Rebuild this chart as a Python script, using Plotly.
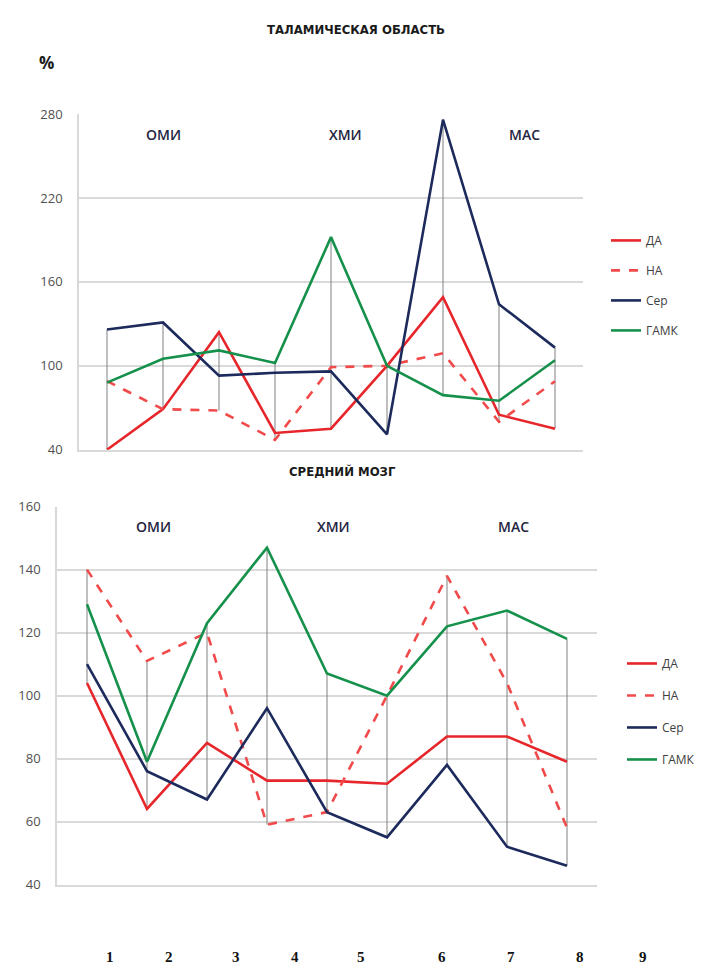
import plotly.graph_objects as go

# ---------------- data ----------------
categories = [1, 2, 3, 4, 5, 6, 7, 8, 9]
bottom_tick_labels = ["1", "2", "3", "4", "5", "6", "7", "8", "9"]
series_names = ["ДА", "НА", "Сер", "ГАМК"]

# Таламическая область (%)
thal_da = [40, 69, 124, 52, 55, 100, 149, 65, 55]
thal_na = [89, 69, 68, 47, 99, 100, 109, 60, 89]
thal_ser = [126, 131, 93, 95, 96, 51, 276, 144, 113]
thal_gaba = [88, 105, 111, 102, 192, 100, 79, 75, 104]

# Средний мозг (%)
mid_da = [104, 64, 85, 73, 73, 72, 87, 87, 79]
mid_na = [140, 111, 120, 59, 63, 100, 138, 104, 58]
mid_ser = [110, 76, 67, 96, 63, 55, 78, 52, 46]
mid_gaba = [129, 79, 123, 147, 107, 100, 122, 127, 118]

group_labels = ["ОМИ", "ХМИ", "МАС"]

# ---------------- styles ----------------
W, H = 720, 976
colors = ["#e6262b", "#f14a4a", "#1c2a5c", "#15914b"]
dashes = ["solid", "dash", "solid", "solid"]
grid_col = "#d9d9d9"
tick_font = dict(family="Open Sans, Liberation Sans, sans-serif", size=13, color="#505050")
label_font = dict(family="Open Sans, Liberation Sans, sans-serif", size=14, color="#1f2440", weight=600)

def px_x(p):
    return p / W

def px_y(p):
    return 1 - p / H

fig = go.Figure()

def add_panel(series, xa, ya, legend):
    # high-low lines
    hx, hy = [], []
    for i, c in enumerate(categories):
        vals = [s[i] for s in series]
        hx += [c, c, None]
        hy += [max(vals), min(vals), None]
    fig.add_trace(go.Scatter(x=hx, y=hy, mode="lines", xaxis=xa, yaxis=ya,
                             line=dict(color="#808080", width=1),
                             showlegend=False, hoverinfo="skip"))
    for name, s, col, d in zip(series_names, series, colors, dashes):
        fig.add_trace(go.Scatter(x=categories, y=s, mode="lines", name=name,
                                 xaxis=xa, yaxis=ya, legend=legend,
                                 legendgroup=legend + name,
                                 line=dict(color=col, width=2.6, dash=d)))

add_panel([thal_da, thal_na, thal_ser, thal_gaba], "x", "y", "legend")
add_panel([mid_da, mid_na, mid_ser, mid_gaba], "x2", "y2", "legend2")

axis_common = dict(showgrid=False, zeroline=False, showticklabels=False,
                   range=[0.5, 9.5], showline=True, linecolor=grid_col, linewidth=1.5)
yaxis_common = dict(showgrid=True, gridcolor=grid_col, gridwidth=1.5, zeroline=False,
                    tickfont=tick_font, showline=True, linecolor=grid_col, linewidth=1.5,
                    ticks="", ticklabelstandoff=12)

legend_font = dict(family="Open Sans, Liberation Sans, sans-serif", size=12, color="#404040")
fig.update_layout(
    width=W, height=H,
    margin=dict(l=0, r=0, t=0, b=0),
    paper_bgcolor="white", plot_bgcolor="white",
    xaxis=dict(domain=[px_x(79), px_x(583)], anchor="y", **axis_common),
    yaxis=dict(domain=[px_y(449), px_y(107)], anchor="x", range=[40, 280],
               tickvals=[40, 100, 160, 220, 280], **yaxis_common),
    xaxis2=dict(domain=[px_x(57), px_x(597)], anchor="y2", **axis_common),
    yaxis2=dict(domain=[px_y(892), px_y(507)], anchor="x2", range=[40, 160],
                tickvals=[40, 60, 80, 100, 120, 140, 160], **yaxis_common),
    legend=dict(x=px_x(606), y=px_y(221), xanchor="left", yanchor="top",
                bgcolor="rgba(0,0,0,0)", tracegroupgap=11, font=legend_font),
    legend2=dict(x=px_x(622), y=px_y(652), xanchor="left", yanchor="top",
                 bgcolor="rgba(0,0,0,0)", tracegroupgap=13, font=legend_font),
    showlegend=True,
)

title_font = dict(family="Liberation Sans Narrow, DejaVu Sans Condensed, sans-serif",
                  size=13, color="#1a1a1a")
ann = []
ann.append(dict(text="<b>ТАЛАМИЧЕСКАЯ ОБЛАСТЬ</b>", x=px_x(356), y=px_y(21), xref="paper", yref="paper",
                showarrow=False, font=title_font, xanchor="center", yanchor="middle"))
ann.append(dict(text="<b>СРЕДНИЙ МОЗГ</b>", x=px_x(342), y=px_y(471), xref="paper", yref="paper",
                showarrow=False, font=title_font, xanchor="center", yanchor="middle"))
ann.append(dict(text="<b>%</b>", x=px_x(46), y=px_y(55), xref="paper", yref="paper",
                showarrow=False, font=dict(family="Open Sans, sans-serif", size=17, color="#1a1a1a"),
                xanchor="center", yanchor="middle"))

top_label_x = [2.0, 5.25, 8.45]
bot_label_x = [2.1, 5.1, 8.1]
for lbl, xv in zip(group_labels, top_label_x):
    ann.append(dict(text=lbl, x=xv, y=0.938, xref="x", yref="y domain", showarrow=False,
                    font=label_font, xanchor="center", yanchor="middle"))
for lbl, xv in zip(group_labels, bot_label_x):
    ann.append(dict(text=lbl, x=xv, y=0.948, xref="x2", yref="y2 domain", showarrow=False,
                    font=label_font, xanchor="center", yanchor="middle"))

bottom_label_px = [110, 169, 236, 295, 361, 442, 511, 580, 643]
for lbl, xp in zip(bottom_tick_labels, bottom_label_px):
    ann.append(dict(text="<b>" + lbl + "</b>", x=px_x(xp), y=px_y(966), xref="paper", yref="paper",
                    showarrow=False, xanchor="center", yanchor="middle",
                    font=dict(family="Liberation Serif, serif", size=15, color="#111111")))

fig.update_layout(annotations=ann)
fig.write_html("out.html",
               config={"displayModeBar": False},
               post_script="document.body.style.margin='0';document.body.style.overflow='hidden';")
